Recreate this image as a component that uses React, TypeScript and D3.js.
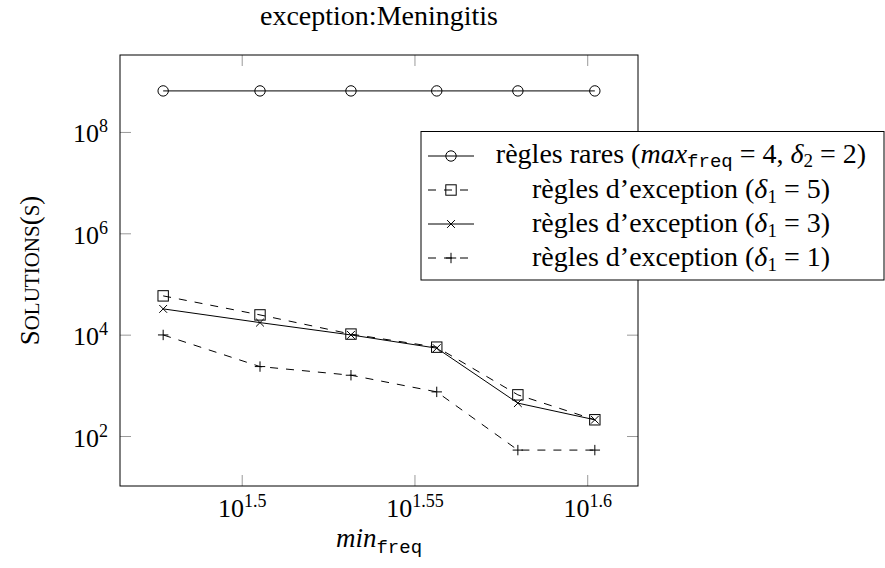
import React from 'react';
import * as d3 from 'd3';

// min_freq values (x) and number of solutions for each series
const minFreq = [30, 32, 34, 36, 38, 40];
const reglesRares = [6.6e8, 6.6e8, 6.6e8, 6.6e8, 6.6e8, 6.6e8];
const exception5 = [59600, 25100, 10500, 5800, 664, 214];
const exception3 = [33000, 17700, 10100, 5540, 456, 214];
const exception1 = [10100, 2400, 1620, 760, 54, 54];

const xTickExps = ['1.5', '1.55', '1.6'];
const yTickExps = [2, 4, 6, 8];

const W = 885;
const H = 568;
const margin = { left: 120, right: 247, top: 55, bottom: 82 };

const SERIF = '"Liberation Serif", "DejaVu Serif", serif';
const MONO = '"Liberation Mono", "DejaVu Sans Mono", monospace';
const FS = 26;
const SUB = 18;
const LFS = 28;

type Mark = 'circle' | 'square' | 'cross' | 'plus';

const series: { values: number[]; mark: Mark; dashed: boolean; label: string }[] = [
  { values: reglesRares, mark: 'circle', dashed: false, label: 'rares' },
  { values: exception5, mark: 'square', dashed: true, label: '5' },
  { values: exception3, mark: 'cross', dashed: false, label: '3' },
  { values: exception1, mark: 'plus', dashed: true, label: '1' },
];

// pgfplots style: enlarge limits by 10% of the (log) data range
const enlargeLog = (vals: number[]) => {
  const lo = Math.log10(d3.min(vals) as number);
  const hi = Math.log10(d3.max(vals) as number);
  const pad = (hi - lo) * 0.1;
  return [Math.pow(10, lo - pad), Math.pow(10, hi + pad)];
};

const R = 5.2;

const Marker = ({ kind, cx, cy }: { kind: Mark; cx: number; cy: number }) => {
  const common = { stroke: '#000', strokeWidth: 1, fill: 'none' };
  if (kind === 'circle') return <circle cx={cx} cy={cy} r={R} {...common} />;
  if (kind === 'square')
    return <rect x={cx - R} y={cy - R} width={2 * R} height={2 * R} {...common} />;
  if (kind === 'cross') {
    const r = R * 0.75;
    return (
      <path d={`M${cx - r},${cy - r}L${cx + r},${cy + r}M${cx - r},${cy + r}L${cx + r},${cy - r}`} {...common} />
    );
  }
  return <path d={`M${cx - R},${cy}L${cx + R},${cy}M${cx},${cy - R}L${cx},${cy + R}`} {...common} />;
};

const App: React.FC = () => {
  const x0 = margin.left;
  const x1 = W - margin.right;
  const y0 = margin.top;
  const y1 = H - margin.bottom;

  const x = d3.scaleLog().domain(enlargeLog(minFreq)).range([x0, x1]);
  const allY = [...reglesRares, ...exception5, ...exception3, ...exception1];
  const y = d3.scaleLog().domain(enlargeLog(allY)).range([y1, y0]);

  const line = d3
    .line<number>()
    .x((_, i) => x(minFreq[i]))
    .y((d) => y(d));

  const tickLen = 11;
  const tickColor = '#9a9a9a';
  const cx = (x0 + x1) / 2;

  // legend geometry
  const lg = { x: 421, y: 131.5, w: 463, h: 148.5, row0: 156, step: 34 };
  const textX = 681;

  return (
    <svg
      width={W}
      height={H}
      style={{ position: 'absolute', left: 0, top: 0, background: '#fff' }}
      fontFamily={SERIF}
    >
      {/* title */}
      <text x={cx} y={25} fontSize={28} textAnchor="middle">
        exception:Meningitis
      </text>

      {/* ticks */}
      {xTickExps.map((e) => {
        const v = Math.pow(10, +e);
        const px = x(v);
        return (
          <g key={e}>
            <line x1={px} x2={px} y1={y1} y2={y1 - tickLen} stroke={tickColor} />
            <line x1={px} x2={px} y1={y0} y2={y0 + tickLen} stroke={tickColor} />
            <text x={px} y={y1 + 31} fontSize={FS} textAnchor="middle">
              10
              <tspan fontSize={SUB} dy={-10}>
                {e}
              </tspan>
            </text>
          </g>
        );
      })}
      {yTickExps.map((e) => {
        const py = y(Math.pow(10, e));
        return (
          <g key={e}>
            <line x1={x0} x2={x0 + tickLen} y1={py} y2={py} stroke={tickColor} />
            <line x1={x1} x2={x1 - tickLen} y1={py} y2={py} stroke={tickColor} />
            <text x={108} y={py + 10} fontSize={FS} textAnchor="end">
              10
              <tspan fontSize={SUB} dy={-10}>
                {e}
              </tspan>
            </text>
          </g>
        );
      })}

      {/* series */}
      {series.map((s) => (
        <g key={s.label}>
          <path
            d={line(s.values) || ''}
            fill="none"
            stroke="#000"
            strokeWidth={1}
            strokeDasharray={s.dashed ? '8,8' : undefined}
          />
          {s.values.map((v, i) => (
            <Marker key={i} kind={s.mark} cx={x(minFreq[i])} cy={y(v)} />
          ))}
        </g>
      ))}

      {/* axis box */}
      <rect x={x0} y={y0} width={x1 - x0} height={y1 - y0} fill="none" stroke="#000" strokeWidth={1} />

      {/* axis labels */}
      <text x={cx} y={547} fontSize={FS + 1} textAnchor="middle">
        <tspan fontStyle="italic">min</tspan>
        <tspan fontFamily={MONO} fontSize={SUB + 1} dy={6}>
          freq
        </tspan>
      </text>
      <text transform={`translate(39,${(y0 + y1) / 2}) rotate(-90)`} fontSize={FS + 1} textAnchor="middle">
        S<tspan fontSize={21}>OLUTIONS</tspan>(<tspan fontSize={21}>S</tspan>)
      </text>

      {/* legend */}
      <rect x={lg.x} y={lg.y} width={lg.w} height={lg.h} fill="#fff" stroke="#000" strokeWidth={1} />
      {series.map((s, i) => {
        const ry = lg.row0 + i * lg.step;
        return (
          <g key={s.label}>
            <line
              x1={428}
              x2={474}
              y1={ry}
              y2={ry}
              stroke="#000"
              strokeWidth={1}
              strokeDasharray={s.dashed ? '8,8' : undefined}
            />
            <Marker kind={s.mark} cx={451} cy={ry} />
            {i === 0 ? (
              <text x={textX} y={ry + 7} fontSize={LFS} textAnchor="middle">
                règles rares (<tspan fontStyle="italic">max</tspan>
                <tspan fontFamily={MONO} fontSize={SUB + 1} dy={4}>
                  freq
                </tspan>
                <tspan dy={-4}> = 4, </tspan>
                <tspan fontStyle="italic">δ</tspan>
                <tspan fontSize={SUB + 1} dy={4}>
                  2
                </tspan>
                <tspan dy={-4}> = 2)</tspan>
              </text>
            ) : (
              <text x={textX} y={ry + 8} fontSize={LFS} textAnchor="middle">
                règles d’exception (<tspan fontStyle="italic">δ</tspan>
                <tspan fontSize={SUB + 1} dy={5}>
                  1
                </tspan>
                <tspan dy={-5}> = {s.label})</tspan>
              </text>
            )}
          </g>
        );
      })}
    </svg>
  );
};

export default App;
